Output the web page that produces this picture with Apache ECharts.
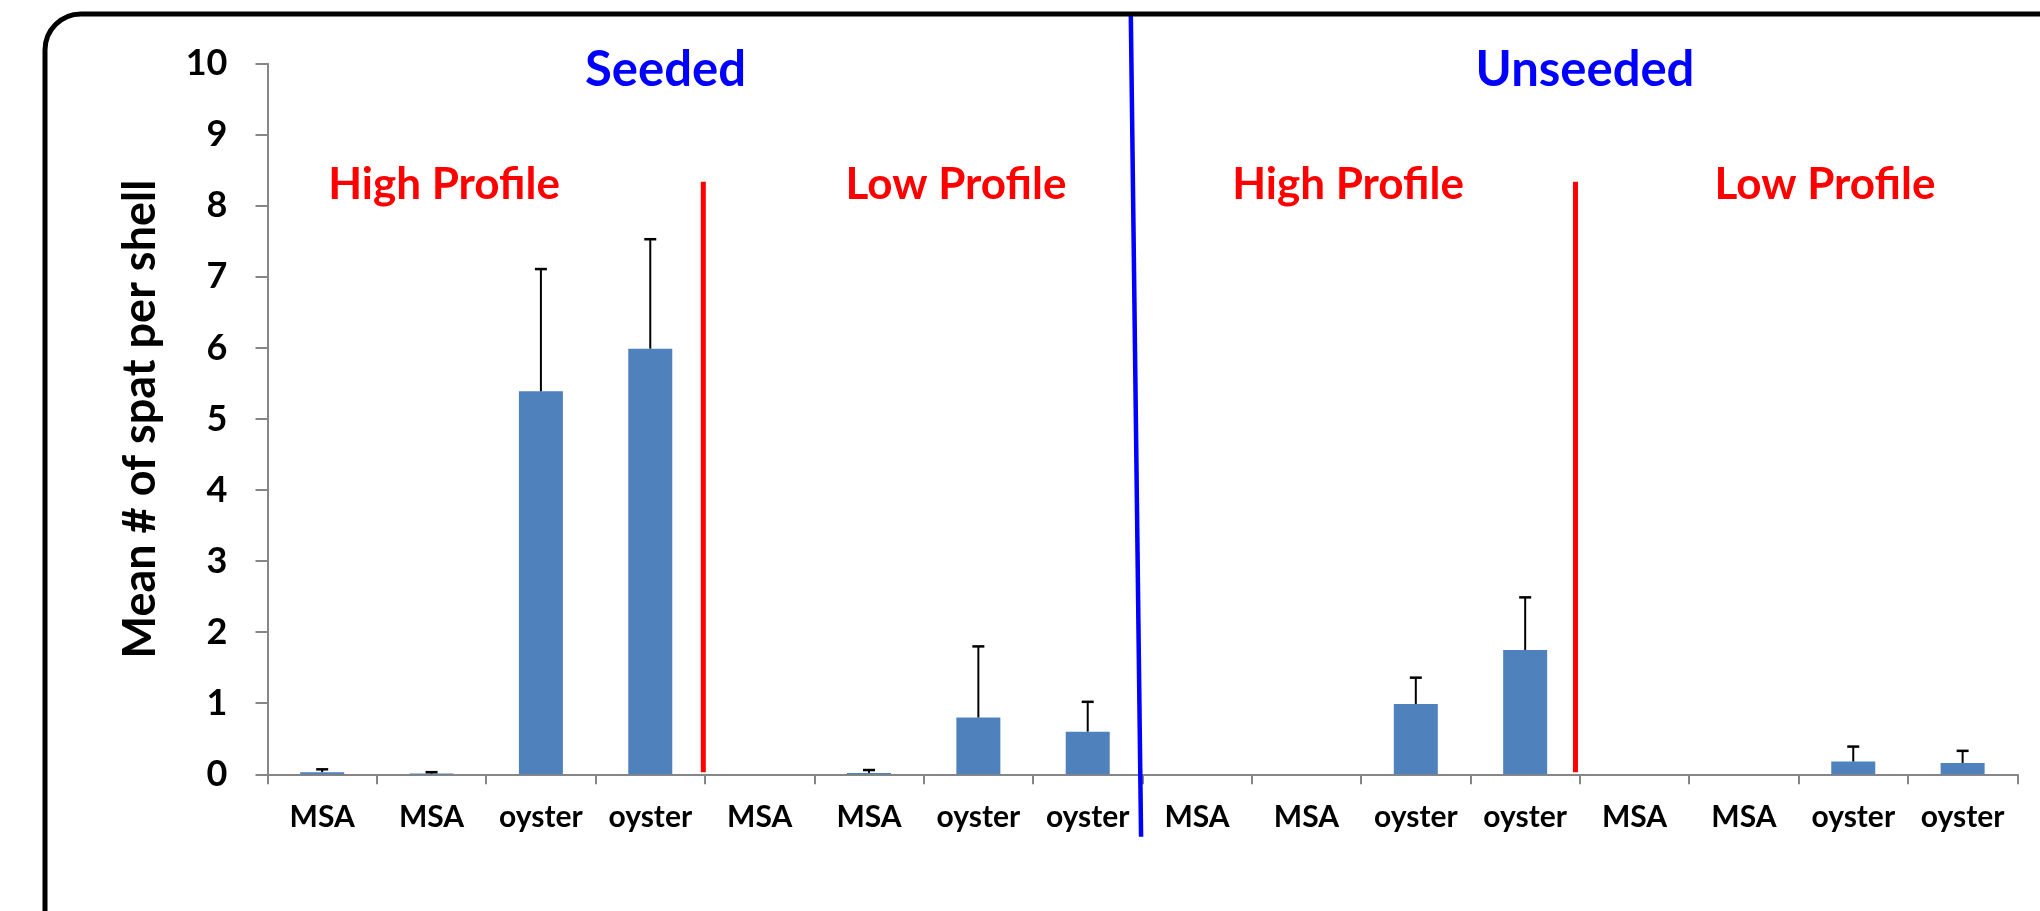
<!DOCTYPE html>
<html>
<head>
<meta charset="utf-8">
<script src="https://cdn.jsdelivr.net/npm/echarts@6/dist/echarts.min.js"></script>
<style>
html,body{margin:0;padding:0;background:#fff;}
#chart{width:2040px;height:911px;}
</style>
</head>
<body>
<div id="chart"></div>
<script>
// ---- data ----
const categories = ['MSA','MSA','oyster','oyster','MSA','MSA','oyster','oyster','MSA','MSA','oyster','oyster','MSA','MSA','oyster','oyster'];
const means = [0.03, 0.01, 5.39, 5.99, 0, 0.02, 0.8, 0.6, 0, 0, 0.99, 1.75, 0, 0, 0.18, 0.16];
const errors = [0.04, 0.02, 1.72, 1.54, 0, 0.04, 1.0, 0.42, 0, 0, 0.37, 0.74, 0, 0, 0.21, 0.17];
const yTicks = [0, 10, 1]; // min, max, interval
const groupTitles = ['Seeded', 'Unseeded'];
const profileTitles = ['High Profile', 'Low Profile', 'High Profile', 'Low Profile'];
const yTitle = 'Mean # of spat per shell';

const FONT = 'Lato';
const chart = echarts.init(document.getElementById('chart'), null, {renderer: 'canvas'});

// separator lines in (category-boundary, value) coordinates
const separators = [
  {p: [3.985, 8.34, 3.985, 0.03], color: '#FF0000', w: 5},
  {p: [11.96, 8.34, 11.96, 0.03], color: '#FF0000', w: 5},
  {p: [7.894, 10.70, 7.988, -0.88], color: '#0000FF', w: 4.5}
];

const option = {
  backgroundColor: '#ffffff',
  animation: false,
  grid: {left: 267.5, right: 22.7, top: 63.7, bottom: 136.7, containLabel: false},
  xAxis: [{
    type: 'category',
    data: categories,
    boundaryGap: true,
    axisLine: {show: true, lineStyle: {color: '#868686', width: 2}},
    axisTick: {show: true, length: 10, lineStyle: {color: '#868686', width: 2}},
    axisLabel: {color: '#000', fontFamily: FONT, fontWeight: 'bold', fontSize: 30, margin: 28, interval: 0},
    splitLine: {show: false}
  }, {
    type: 'value', min: 0, max: 16, show: false
  }],
  yAxis: [{
    type: 'value',
    min: yTicks[0], max: yTicks[1], interval: yTicks[2],
    name: yTitle,
    nameLocation: 'middle',
    nameRotate: 90,
    nameGap: 105,
    nameTextStyle: {color: '#000', fontFamily: FONT, fontWeight: 'bold', fontSize: 45},
    axisLine: {show: true, lineStyle: {color: '#868686', width: 2}},
    axisTick: {show: true, length: 12, lineStyle: {color: '#868686', width: 2}},
    axisLabel: {color: '#000', fontFamily: FONT, fontWeight: 'bold', fontSize: 36, margin: 40},
    splitLine: {show: false}
  }],
  series: [{
    type: 'bar',
    data: means,
    barWidth: 44,
    itemStyle: {color: '#4F81BD'},
    z: 2
  }, {
    type: 'custom',
    data: categories.map((c, i) => [i, means[i], errors[i]]),
    z: 3,
    renderItem: function (params, api) {
      const e = api.value(2);
      if (!(e > 0)) return null;
      const x = api.value(0), m = api.value(1);
      const p0 = api.coord([x, m]);
      const p1 = api.coord([x, m + e]);
      return {
        type: 'group',
        children: [
          {type: 'line', shape: {x1: p0[0], y1: p0[1], x2: p1[0], y2: p1[1]}, style: {stroke: '#000', lineWidth: 2}},
          {type: 'line', shape: {x1: p1[0] - 6, y1: p1[1], x2: p1[0] + 6, y2: p1[1]}, style: {stroke: '#000', lineWidth: 2.5}}
        ]
      };
    }
  }, {
    type: 'custom',
    xAxisIndex: 1,
    yAxisIndex: 0,
    clip: false,
    z: 5,
    data: separators.map((s, i) => [s.p[0], s.p[1], s.p[2], s.p[3], i]),
    renderItem: function (params, api) {
      const s = separators[params.dataIndex];
      const a = api.coord([api.value(0), api.value(1)]);
      const b = api.coord([api.value(2), api.value(3)]);
      return {type: 'line', shape: {x1: a[0], y1: a[1], x2: b[0], y2: b[1]}, style: {stroke: s.color, lineWidth: s.w}};
    }
  }],
  graphic: [
    {type: 'rect', z: 10, shape: {x: 45, y: 14, width: 2200, height: 1100, r: 36}, style: {fill: null, stroke: '#000', lineWidth: 5}},
    {type: 'text', x: 665.5, y: 70, style: {text: groupTitles[0], fill: '#0000FF', font: 'bold 49px ' + FONT, textAlign: 'center', textVerticalAlign: 'middle'}},
    {type: 'text', x: 1585, y: 70, style: {text: groupTitles[1], fill: '#0000FF', font: 'bold 49px ' + FONT, textAlign: 'center', textVerticalAlign: 'middle'}},
    {type: 'text', x: 444, y: 185, style: {text: profileTitles[0], fill: '#FF0000', font: 'bold 44px ' + FONT, textAlign: 'center', textVerticalAlign: 'middle'}},
    {type: 'text', x: 956, y: 185, style: {text: profileTitles[1], fill: '#FF0000', font: 'bold 44px ' + FONT, textAlign: 'center', textVerticalAlign: 'middle'}},
    {type: 'text', x: 1348, y: 185, style: {text: profileTitles[2], fill: '#FF0000', font: 'bold 44px ' + FONT, textAlign: 'center', textVerticalAlign: 'middle'}},
    {type: 'text', x: 1825, y: 185, style: {text: profileTitles[3], fill: '#FF0000', font: 'bold 44px ' + FONT, textAlign: 'center', textVerticalAlign: 'middle'}}
  ]
};
chart.setOption(option);
</script>
</body>
</html>
